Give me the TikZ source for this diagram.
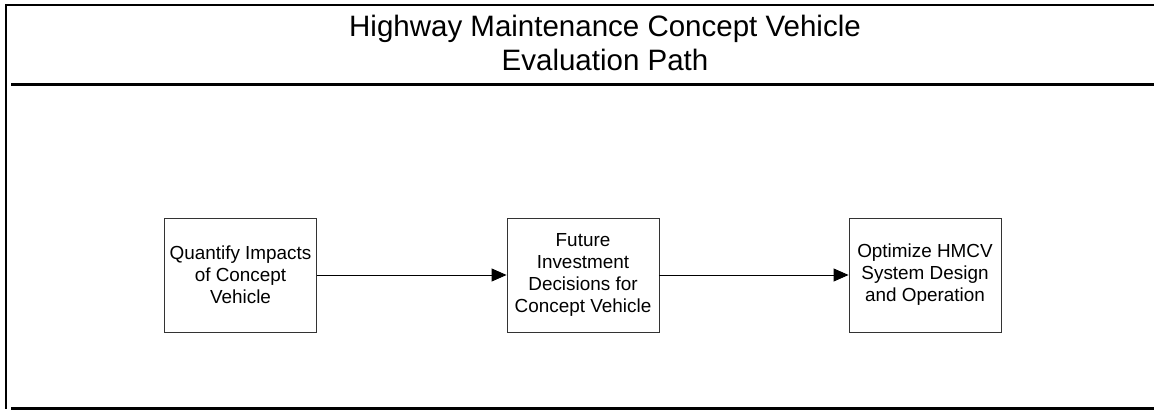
\documentclass[tikz,border=0pt]{standalone}
\usepackage{fontspec}
\setmainfont{Liberation Sans}
\usetikzlibrary{arrows.meta}
\begin{document}
\begin{tikzpicture}[x=1pt,y=1pt,
  frameline/.style={line width=2.4pt,black},
  procbox/.style={draw=black!80,line width=0.9pt,minimum width=152pt,minimum height=114pt,
    inner sep=0pt,align=center,font=\fontsize{18.9}{22}\selectfont},
  flowarrow/.style={line width=0.9pt,-{Triangle[length=15pt,width=13pt]}}]
\useasboundingbox (0,0) rectangle (1154,-411);
% frame
\coordinate (tl) at (6,-5);
\coordinate (tr) at (1160,-5);
\coordinate (bl) at (6,-409.5);
\coordinate (sl) at (11,-84.5);
\coordinate (sr) at (1160,-84.5);
\coordinate (bbl) at (11,-408.5);
\coordinate (bbr) at (1160,-408.5);
\draw[frameline] (tr) -- (tl) -- (bl);
\draw[frameline] (sl) -- (sr);
\draw[frameline] (bbl) -- (bbr);
% title
\node[align=center,inner sep=0pt,font=\fontsize{29.5}{33.5}\selectfont] (title) at (605,-42.8)
  {Highway Maintenance Concept Vehicle\\Evaluation Path};
% boxes
\node[procbox] (quant) at (240.5,-275) {Quantify Impacts\\of Concept\\Vehicle};
\node[procbox] (future) at (583,-275) {Future\\Investment\\Decisions for\\Concept Vehicle};
\node[procbox] (optim) at (925,-275) {Optimize HMCV\\System Design\\and Operation};
\draw[flowarrow] (quant) -- (future);
\draw[flowarrow] (future) -- (optim);
\end{tikzpicture}
\end{document}
